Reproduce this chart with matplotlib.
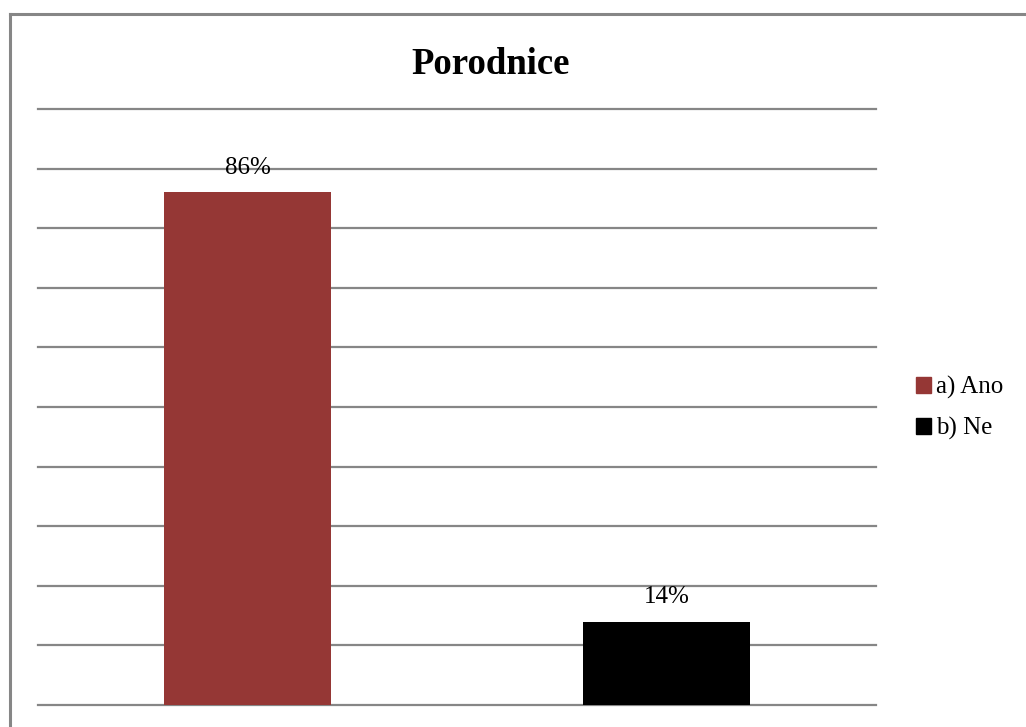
import matplotlib.pyplot as plt
from matplotlib.patches import Patch
from matplotlib.lines import Line2D

categories = ["a) Ano", "b) Ne"]
shares = [0.86, 0.14]
labels = ["86%", "14%"]
colors = ["#953735", "#000000"]

plt.rcParams['font.family'] = ['Liberation Serif', 'DejaVu Serif']

fig = plt.figure(figsize=(10.26, 7.27), dpi=100)
ax = fig.add_axes([38/1026, 22/727, 838/1026, 596/727])

x = range(len(categories))
bars = ax.bar(x, shares, width=0.4, color=colors, zorder=3)
for b, txt in zip(bars, labels):
    ax.annotate(txt, (b.get_x() + b.get_width()/2, b.get_height()),
                xytext=(0, 10), textcoords='offset points',
                ha='center', va='bottom', fontsize=18, zorder=4)

ax.set_xlim(-0.5, 1.5)
ax.set_ylim(0, 1.0)
ax.set_yticks([i/10 for i in range(11)])
ax.yaxis.grid(True, color='#868686', linewidth=1.6, zorder=0)
for gl in ax.get_ygridlines():
    gl.set_clip_on(False)
ax.tick_params(left=False, bottom=False, labelleft=False, labelbottom=False)
for s in ax.spines.values():
    s.set_visible(False)

fig.text(491/1026, 1 - 64/727, "Porodnice", ha='center', va='center',
         fontsize=26.5, fontweight='bold')

# frame: only top and left edges are visible
fig.add_artist(Line2D([9.5/1026, 1.0], [1 - 14/727, 1 - 14/727],
                      transform=fig.transFigure, color='#868686', linewidth=2.2))
fig.add_artist(Line2D([9.5/1026, 9.5/1026], [0, 1 - 14/727],
                      transform=fig.transFigure, color='#868686', linewidth=2.2))

handles = [Patch(color=c) for c in colors]
fig.legend(handles, categories, loc='center left',
           bbox_to_anchor=(916/1026, 1 - 408/727), frameon=False,
           fontsize=18, handlelength=0.6, handleheight=0.6,
           handletextpad=0.2, labelspacing=0.7, borderpad=0, borderaxespad=0)

fig.savefig("out.png", dpi=100)
